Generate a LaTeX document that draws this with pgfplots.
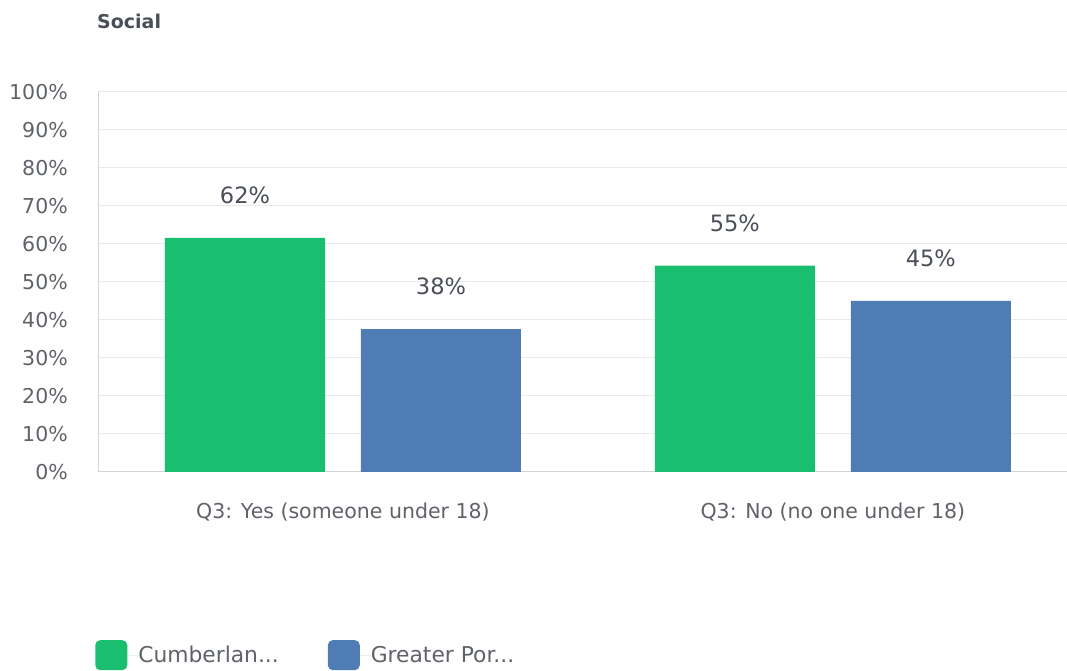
\documentclass[border=0pt]{standalone}
\usepackage{fontspec}
\setmainfont{DejaVu Sans}
\usepackage{pgfplots}
\pgfplotsset{compat=1.18}
\definecolor{cgreen}{HTML}{1ABE6F}
\definecolor{cblue}{HTML}{507CB6}
\definecolor{ctext}{HTML}{4A4F57}
\definecolor{ctick}{HTML}{5F6368}
\definecolor{cgrid}{HTML}{EAEAEA}
\definecolor{caxis}{HTML}{D3D3D3}
\begin{document}
\begin{tikzpicture}
\useasboundingbox (0pt,0pt) rectangle (1067pt,671pt);
\node[anchor=base west, font=\bfseries\fontsize{19}{22}\selectfont, text=ctext, inner sep=0] at (97pt,642pt) {Social};
\begin{axis}[
  at={(98pt,199pt)}, anchor=south west, scale only axis,
  width=969pt, height=380pt,
  xmin=-0.5, xmax=1.478, ymin=0, ymax=100,
  xtick={0,1}, xticklabels={Q3: Yes (someone under 18), Q3: No (no one under 18)},
  ytick={0,10,...,100},
  yticklabel={\pgfmathprintnumber{\tick}\%},
  /pgf/number format/assume math mode=true,
  major tick length=0pt,
  ymajorgrids, grid style={draw=cgrid, line width=1pt},
  axis lines*=left, axis line style={draw=caxis, line width=1pt, -},
  tick label style={font=\fontsize{20.5}{23}\selectfont, text=ctick},
  yticklabel style={anchor=east, inner sep=0pt, xshift=-30pt},
  xticklabel style={anchor=north, inner sep=0pt, yshift=-31pt},
  ybar, bar width=160pt,
  nodes near coords,
  point meta=explicit symbolic,
  every node near coord/.append style={anchor=south, inner sep=0pt, yshift=34pt, font=\fontsize{22.5}{25}\selectfont, text=ctext},
  legend columns=2,
  legend style={draw=none, fill=none, at={(-0.003,-0.442)}, anchor=north west, inner sep=0pt,
    font=\fontsize{21.8}{24}\selectfont, text=ctick, nodes={inner sep=0pt},
    /tikz/every even column/.append style={column sep=49pt}},
  legend cell align=left,
]
\addplot[draw=none, fill=cgreen, bar shift=-98pt,
  legend image code/.code={\fill[cgreen, rounded corners=5pt] (0pt,-15pt) rectangle (32pt,15pt); \path (0pt,0pt) -- (43pt,0pt);}]
  coordinates {(0,61.6) [62\%] (1,54.3) [55\%]};
\addlegendentry{Cumberlan{.}..}
\addplot[draw=none, fill=cblue, bar shift=98pt,
  legend image code/.code={\fill[cblue, rounded corners=5pt] (0pt,-15pt) rectangle (32pt,15pt); \path (0pt,0pt) -- (43pt,0pt);}]
  coordinates {(0,37.6) [38\%] (1,45.0) [45\%]};
\addlegendentry{Greater Por{.}..}
\end{axis}
\end{tikzpicture}
\end{document}
